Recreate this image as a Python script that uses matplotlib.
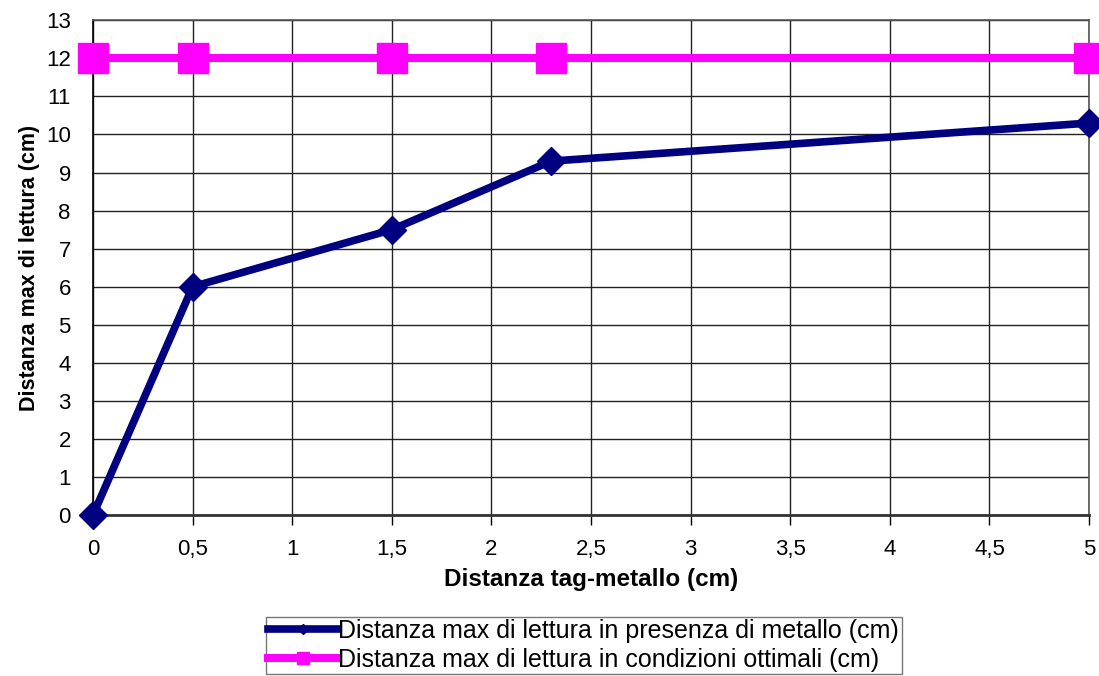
import matplotlib.pyplot as plt
from matplotlib.ticker import FixedLocator

plt.rcParams['font.family'] = ['Liberation Sans', 'DejaVu Sans']

# data
distanza_tag = [0, 0.5, 1.5, 2.3, 5]
con_metallo = [0, 6, 7.5, 9.3, 10.3]
ottimali = [12, 12, 12, 12, 12]

x_ticks = [0, 0.5, 1, 1.5, 2, 2.5, 3, 3.5, 4, 4.5, 5]
y_ticks = list(range(0, 14))

label_metallo = 'Distanza max di lettura in presenza di metallo (cm)'
label_ottimali = 'Distanza max di lettura in condizioni ottimali (cm)'

fig = plt.figure(figsize=(10.99, 6.76), dpi=100)
ax = fig.add_axes([0.0846, 0.238, 0.9064, 0.732])

ax.plot(distanza_tag, con_metallo, color='#000080', lw=5.5, marker='D',
        markersize=14, clip_on=False, zorder=3, label=label_metallo)
ax.plot(distanza_tag, ottimali, color='#FF00FF', lw=5.8, marker='s',
        markersize=21, clip_on=False, zorder=3, label=label_ottimali)

ax.set_xlim(0, 5)
ax.set_ylim(0, 13)
ax.xaxis.set_major_locator(FixedLocator(x_ticks))
ax.yaxis.set_major_locator(FixedLocator(y_ticks))
ax.set_xticklabels([('%g' % t).replace('.', ',') for t in x_ticks])
ax.set_yticklabels([str(t) for t in y_ticks])
ax.tick_params(axis='x', direction='out', length=7, width=1, labelsize=16, pad=10)
ax.tick_params(axis='y', length=0, labelsize=16, pad=16)
ax.grid(True, color='#222222', lw=1)
ax.set_axisbelow(True)
for s in ax.spines.values():
    s.set_color('#555555')
    s.set_linewidth(1.2)
ax.spines['left'].set_color('#000000')
ax.spines['bottom'].set_color('#333333')
ax.spines['bottom'].set_linewidth(2)

ax.set_xlabel('Distanza tag-metallo (cm)', fontsize=17.5, fontweight='bold', labelpad=6)
ax.set_ylabel('Distanza max di lettura (cm)', fontsize=15.5, fontweight='bold', labelpad=4)

leg = fig.legend(loc='upper left', bbox_to_anchor=(0.242, 0.088), fontsize=18,
                 frameon=True, fancybox=False, edgecolor='#555555',
                 handlelength=2.8, handletextpad=0.0, borderpad=0.1,
                 labelspacing=0.18, markerscale=0.4, borderaxespad=0)
leg.get_frame().set_linewidth(1)

fig.savefig('out.png', dpi=100)
